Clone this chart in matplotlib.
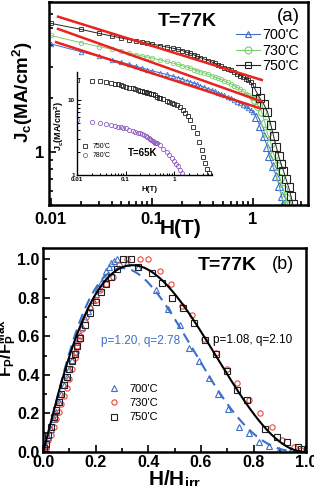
import numpy as np
import matplotlib
matplotlib.use("Agg")
import matplotlib.pyplot as plt
from matplotlib.ticker import NullFormatter, MultipleLocator

plt.rcParams["font.family"] = ["Liberation Sans", "DejaVu Sans"]
plt.rcParams["mathtext.fontset"] = "custom"
plt.rcParams["mathtext.rm"] = "Liberation Sans"
plt.rcParams["mathtext.bf"] = "Liberation Sans:bold"
plt.rcParams["mathtext.it"] = "Liberation Sans:italic"

# ---------------- panel (a): Jc(H) at 77 K ----------------
h_lo = [0.01, 0.02, 0.03, 0.04, 0.05, 0.06, 0.07, 0.08, 0.09, 0.10, 0.12, 0.14,
        0.16, 0.18, 0.20, 0.22, 0.24, 0.26, 0.28, 0.30, 0.33, 0.36, 0.39, 0.42,
        0.45, 0.48, 0.52, 0.56, 0.60, 0.65, 0.70, 0.75, 0.80, 0.85, 0.90, 0.95, 1.00]
jc_750_lo = [5.30, 4.90, 4.65, 4.50, 4.38, 4.29, 4.21, 4.15, 4.10, 4.05, 3.97, 3.90,
             3.84, 3.78, 3.72, 3.65, 3.59, 3.52, 3.46, 3.40, 3.33, 3.27, 3.21, 3.15,
             3.09, 3.03, 2.98, 2.93, 2.88, 2.81, 2.75, 2.69, 2.64, 2.58, 2.53, 2.46, 2.38]
jc_730_lo = [4.53, 4.12, 3.92, 3.79, 3.68, 3.60, 3.53, 3.47, 3.42, 3.38, 3.30, 3.23,
             3.17, 3.11, 3.06, 3.01, 2.96, 2.91, 2.87, 2.83, 2.78, 2.73, 2.68, 2.64,
             2.60, 2.56, 2.51, 2.46, 2.42, 2.36, 2.31, 2.25, 2.19, 2.13, 2.08, 2.04, 2.00]
jc_700_lo = [4.06, 3.66, 3.45, 3.31, 3.20, 3.11, 3.03, 2.97, 2.91, 2.86, 2.79, 2.73,
             2.67, 2.62, 2.57, 2.52, 2.48, 2.44, 2.40, 2.36, 2.31, 2.27, 2.23, 2.19,
             2.15, 2.12, 2.08, 2.04, 2.00, 1.96, 1.92, 1.88, 1.84, 1.80, 1.76, 1.72, 1.68]

h_750_hi = [1.07, 1.17, 1.28, 1.39, 1.50, 1.60, 1.70, 1.80, 1.90, 2.00, 2.12, 2.25, 2.38, 2.47]
jc_750_hi = [2.20, 2.00, 1.85, 1.68, 1.42, 1.22, 1.06, 0.94, 0.85, 0.78, 0.70, 0.63, 0.56, 0.51]
h_730_hi = [1.04, 1.13, 1.22, 1.31, 1.39, 1.50, 1.61, 1.74, 1.85, 1.99, 2.12, 2.19]
jc_730_hi = [1.95, 1.82, 1.67, 1.45, 1.27, 1.12, 0.96, 0.83, 0.71, 0.62, 0.55, 0.51]
h_700_hi = [1.07, 1.17, 1.27, 1.39, 1.45, 1.57, 1.69, 1.82, 1.92, 1.99]
jc_700_hi = [1.58, 1.39, 1.22, 1.07, 0.94, 0.83, 0.73, 0.64, 0.56, 0.51]

# power-law fit lines (end points)
fit_h0 = [0.0113, 0.0118, 0.0118]
fit_h1 = [1.17, 1.22, 1.22]
fit_jc0 = [4.15, 4.93, 5.78]
fit_jc1 = [1.76, 1.92, 2.54]

# inset: 65 K
h_in_750 = [0.01, 0.02, 0.03, 0.04, 0.05, 0.06, 0.07, 0.08, 0.09, 0.10, 0.12, 0.14,
            0.16, 0.18, 0.20, 0.22, 0.24, 0.26, 0.28, 0.30, 0.33, 0.36, 0.40, 0.44,
            0.48, 0.52, 0.60, 0.70, 0.80, 0.90, 1.0, 1.15, 1.32, 1.5, 1.7, 1.9, 2.12,
            2.5, 2.9, 3.3, 3.67, 4.0, 4.3, 4.8, 5.3]
jc_in_750 = [18.5, 18.4, 17.9, 17.5, 17.0, 16.7, 16.3, 16.0, 15.6, 15.2, 14.8, 14.4,
             14.1, 13.8, 13.5, 13.3, 13.1, 12.9, 12.7, 12.6, 12.3, 12.0, 11.6, 11.2,
             10.9, 10.7, 10.3, 9.9, 9.6, 9.3, 9.0, 8.6, 8.1, 7.4, 6.8, 6.1, 5.4,
             4.4, 3.6, 2.8, 2.15, 1.75, 1.43, 1.2, 1.05]
h_in_780 = [0.01, 0.02, 0.03, 0.04, 0.05, 0.06, 0.07, 0.08, 0.09, 0.10, 0.12, 0.14,
            0.16, 0.18, 0.20, 0.22, 0.24, 0.26, 0.28, 0.30, 0.32, 0.34, 0.36, 0.38,
            0.40, 0.42, 0.44, 0.50, 0.60, 0.70, 0.80, 0.90, 1.0, 1.1, 1.2, 1.32, 1.43]
jc_in_780 = [5.5, 5.2, 5.0, 4.85, 4.7, 4.58, 4.45, 4.35, 4.28, 4.2, 4.05, 3.93,
             3.82, 3.7, 3.6, 3.5, 3.4, 3.3, 3.2, 3.1, 3.02, 2.94, 2.86, 2.79,
             2.72, 2.68, 2.65, 2.5, 2.25, 2.05, 1.85, 1.7, 1.55, 1.42, 1.3, 1.17, 1.05]

# ---------------- panel (b): normalised pinning force ----------------
hb_700 = [0.005, 0.01, 0.02, 0.03, 0.04, 0.05, 0.06, 0.07, 0.08, 0.09, 0.10, 0.11,
          0.12, 0.13, 0.14, 0.15, 0.16, 0.17, 0.18, 0.19, 0.20, 0.21, 0.22, 0.23,
          0.24, 0.25, 0.26, 0.27, 0.28, 0.32, 0.36, 0.43, 0.476, 0.52, 0.556, 0.594,
          0.632, 0.666, 0.704, 0.746, 0.784, 0.822, 0.857, 0.898, 0.94]
fb_700 = [0.01, 0.03, 0.08, 0.12, 0.17, 0.21, 0.26, 0.30, 0.35, 0.39, 0.43, 0.48,
          0.52, 0.57, 0.61, 0.65, 0.69, 0.73, 0.76, 0.79, 0.82, 0.85, 0.88, 0.91,
          0.94, 0.96, 0.98, 0.99, 1.00, 0.98, 0.96, 0.84, 0.74, 0.66, 0.54, 0.47,
          0.385, 0.30, 0.225, 0.13, 0.10, 0.054, 0.031, 0.008, 0.0]
hb_730 = [0.005, 0.01, 0.02, 0.03, 0.04, 0.05, 0.06, 0.07, 0.08, 0.09, 0.10, 0.11,
          0.12, 0.125, 0.13, 0.135, 0.14, 0.15, 0.162, 0.18, 0.20, 0.216, 0.239, 0.266,
          0.29, 0.32, 0.368, 0.40, 0.444, 0.485, 0.527, 0.565, 0.61, 0.657, 0.70,
          0.739, 0.784, 0.825, 0.87, 0.91, 0.952, 0.98]
fb_730 = [0.01, 0.02, 0.06, 0.09, 0.13, 0.17, 0.21, 0.25, 0.29, 0.33, 0.38, 0.43,
          0.49, 0.52, 0.55, 0.58, 0.60, 0.64, 0.70, 0.75, 0.79, 0.84, 0.87, 0.91,
          0.97, 1.00, 1.00, 1.00, 0.94, 0.87, 0.76, 0.71, 0.585, 0.515, 0.43,
          0.36, 0.27, 0.20, 0.13, 0.063, 0.028, 0.01]
hb_750 = [0.005, 0.01, 0.02, 0.03, 0.04, 0.05, 0.06, 0.07, 0.08, 0.09, 0.10, 0.11,
          0.12, 0.13, 0.14, 0.16, 0.18, 0.20, 0.22, 0.24, 0.26, 0.28, 0.305, 0.336,
          0.36, 0.416, 0.454, 0.49, 0.533, 0.574, 0.615, 0.657, 0.698, 0.736, 0.774,
          0.844, 0.888, 0.929, 0.968, 0.98]
fb_750 = [0.02, 0.04, 0.09, 0.13, 0.18, 0.22, 0.26, 0.30, 0.35, 0.39, 0.43, 0.47,
          0.51, 0.55, 0.59, 0.66, 0.72, 0.78, 0.83, 0.87, 0.91, 0.95, 1.00, 1.00,
          0.96, 0.93, 0.88, 0.80, 0.75, 0.67, 0.58, 0.51, 0.42, 0.32, 0.27,
          0.12, 0.08, 0.05, 0.028, 0.016]

# Dew-Hughes fit parameters (amplitude, p, q)
fit_700 = (0.955, 1.20, 2.78)
fit_750 = (0.97, 1.08, 2.10)

BLUE = "#3d6ec9"
GREEN = "#79cf6e"
BLACK = "#222222"
RED = "#e8231b"
PURPLE = "#8f5cc2"
RED_B = "#e8483c"

fig = plt.figure(figsize=(3.14, 4.86), dpi=100)

# ---------- (a) ----------
ax1 = fig.add_axes([0.156, 0.578, 0.825, 0.418])
ax1.set_xscale("log")
ax1.set_yscale("log")

series = [(h_lo, jc_700_lo, h_700_hi, jc_700_hi, BLUE, "^", "700'C"),
          (h_lo, jc_730_lo, h_730_hi, jc_730_hi, GREEN, "o", "730'C"),
          (h_lo, jc_750_lo, h_750_hi, jc_750_hi, BLACK, "s", "750'C")]
for hl, jl, hh, jh, col, mk, lab in series:
    ax1.plot(hl + hh, jl + jh, "-", color=col, lw=0.7)
    ax1.plot(hl, jl, mk, color=col, mfc="none", ms=3.2, mew=0.6)
    ax1.plot(hh, jh, mk, color=col, mfc="none", ms=5.8, mew=0.8)
    ax1.plot([], [], "-" + mk, color=col, mfc="none", ms=5, mew=0.8, lw=0.8, label=lab)

for h0, h1, j0, j1 in zip(fit_h0, fit_h1, fit_jc0, fit_jc1):
    ax1.plot([h0, h1], [j0, j1], color=RED, lw=1.8, zorder=5)

ax1.set_xlim(0.0096, 3.5)
ax1.set_ylim(0.5, 7)
ax1.set_xticks([0.01, 0.1, 1])
ax1.set_xticklabels(["0.01", "0.1", "1"])
ax1.set_yticks([1])
ax1.set_yticklabels(["1"])
ax1.xaxis.set_minor_formatter(NullFormatter())
ax1.yaxis.set_minor_formatter(NullFormatter())
ax1.tick_params(which="both", direction="in", width=1.2, labelsize=12)
ax1.tick_params(which="major", length=5)
ax1.tick_params(which="minor", length=3)
ax1.tick_params(axis="x", pad=5)
for lbl in ax1.get_xticklabels() + ax1.get_yticklabels():
    lbl.set_fontweight("bold")
for sp in ax1.spines.values():
    sp.set_linewidth(1.8)

ax1.set_xlabel("H(T)", fontsize=15, fontweight="bold")
ax1.xaxis.set_label_coords(0.506, -0.07)
ax1.set_ylabel(r"$\mathbf{J_c(MA/cm^2)}$", fontsize=13.5)
ax1.yaxis.set_label_coords(-0.055, 0.557)

ax1.text(0.533, 0.906, "T=77K", transform=ax1.transAxes, ha="center", va="center",
         fontsize=14, fontweight="bold")
ax1.text(0.923, 0.926, "(a)", transform=ax1.transAxes, ha="center", va="center", fontsize=13.5)
ax1.legend(loc="upper right", bbox_to_anchor=(1.0, 0.915), frameon=False, fontsize=10.3,
           handlelength=1.7, handletextpad=0.2, labelspacing=0.12, borderaxespad=0.2)

# ---------- inset ----------
axi = fig.add_axes([0.245, 0.640, 0.430, 0.212])
axi.set_xscale("log")
axi.set_yscale("log")
axi.plot(h_in_750, jc_in_750, "s", color=BLACK, mfc="none", ms=3, mew=0.6, label="750'C")
axi.plot(h_in_780, jc_in_780, "o", color=PURPLE, mfc="none", ms=3, mew=0.6, label="780'C")
axi.set_xlim(0.01, 6)
axi.set_ylim(1, 24)
axi.set_xticks([0.01, 0.1, 1])
axi.set_xticklabels(["0.01", "0.1", "1"])
axi.set_yticks([1, 10])
axi.set_yticklabels(["1", "10"])
axi.xaxis.set_minor_formatter(NullFormatter())
axi.yaxis.set_minor_formatter(NullFormatter())
axi.tick_params(which="both", direction="in", width=0.7, labelsize=4.5, pad=1.5)
axi.tick_params(which="major", length=3)
axi.tick_params(which="minor", length=1.8)
for lbl in axi.get_xticklabels() + axi.get_yticklabels():
    lbl.set_fontweight("bold")
axi.spines["top"].set_visible(False)
axi.spines["right"].set_visible(False)
axi.spines["left"].set_linewidth(1.0)
axi.spines["bottom"].set_linewidth(1.0)
axi.patch.set_alpha(0)
axi.set_xlabel("H(T)", fontsize=5.8, fontweight="bold")
axi.xaxis.set_label_coords(0.54, -0.11)
axi.set_ylabel(r"$\mathbf{J_c(MA/cm^2)}$", fontsize=6.5)
axi.yaxis.set_label_coords(-0.08, 0.47)
axi.text(0.49, 0.214, "T=65K", transform=axi.transAxes, ha="center", va="center",
         fontsize=7, fontweight="bold")
axi.legend(loc="lower left", bbox_to_anchor=(0.0, 0.11), frameon=False, fontsize=5,
           handlelength=1.0, handletextpad=0.6, labelspacing=0.35, borderaxespad=0.2)

# ---------- (b) ----------
ax2 = fig.add_axes([0.137, 0.070, 0.838, 0.420])
ax2.plot(hb_700, fb_700, "^", color=BLUE, mfc="none", ms=4.5, mew=0.8, label="700'C")
ax2.plot(hb_730, fb_730, "o", color=RED_B, mfc="none", ms=3.8, mew=0.8, label="730'C")
ax2.plot(hb_750, fb_750, "s", color=BLACK, mfc="none", ms=3.8, mew=0.8, label="750'C")

hf = np.linspace(0, 1, 300)
for (amp, p, q), col, ls in [(fit_700, BLUE, (0, (5, 3))), (fit_750, "black", "-")]:
    hp = p / (p + q)
    ax2.plot(hf, amp * (hf / hp) ** p * ((1 - hf) / (1 - hp)) ** q, color=col, lw=1.5, ls=ls)

ax2.set_xlim(0, 1)
ax2.set_ylim(0, 1.06)
ax2.xaxis.set_major_locator(MultipleLocator(0.2))
ax2.xaxis.set_minor_locator(MultipleLocator(0.1))
ax2.yaxis.set_major_locator(MultipleLocator(0.2))
ax2.yaxis.set_minor_locator(MultipleLocator(0.1))
ax2.xaxis.set_major_formatter(plt.FuncFormatter(lambda v, _: f"{v:.1f}"))
ax2.yaxis.set_major_formatter(plt.FuncFormatter(lambda v, _: f"{v:.1f}"))
ax2.tick_params(which="both", direction="in", width=1.2, labelsize=11.5)
ax2.tick_params(which="major", length=5)
ax2.tick_params(which="minor", length=3)
ax2.tick_params(axis="x", pad=2.5)
ax2.tick_params(axis="y", pad=2.5)
for lbl in ax2.get_xticklabels() + ax2.get_yticklabels():
    lbl.set_fontweight("bold")
for sp in ax2.spines.values():
    sp.set_linewidth(1.8)

ax2.set_xlabel(r"$\mathbf{H/H_{irr}}$", fontsize=15)
ax2.xaxis.set_label_coords(0.50, -0.08)
ax2.set_ylabel(r"$\mathbf{F_P/F_P^{Max}}$", fontsize=12)
ax2.yaxis.set_label_coords(-0.092, 0.51)

ax2.text(0.70, 0.912, "T=77K", transform=ax2.transAxes, ha="center", va="center",
         fontsize=14, fontweight="bold")
ax2.text(0.91, 0.917, "(b)", transform=ax2.transAxes, ha="center", va="center", fontsize=13)
ax2.text(0.369, 0.544, "p=1.20, q=2.78", transform=ax2.transAxes, ha="center", va="center",
         fontsize=8.5, color=BLUE)
ax2.text(0.797, 0.549, "p=1.08, q=2.10", transform=ax2.transAxes, ha="center", va="center",
         fontsize=8.5, color="black")
ax2.legend(loc="center", bbox_to_anchor=(0.34, 0.24), frameon=False, fontsize=8,
           handlelength=1.2, handletextpad=0.8, labelspacing=0.4)

fig.savefig("out.png", dpi=100)
